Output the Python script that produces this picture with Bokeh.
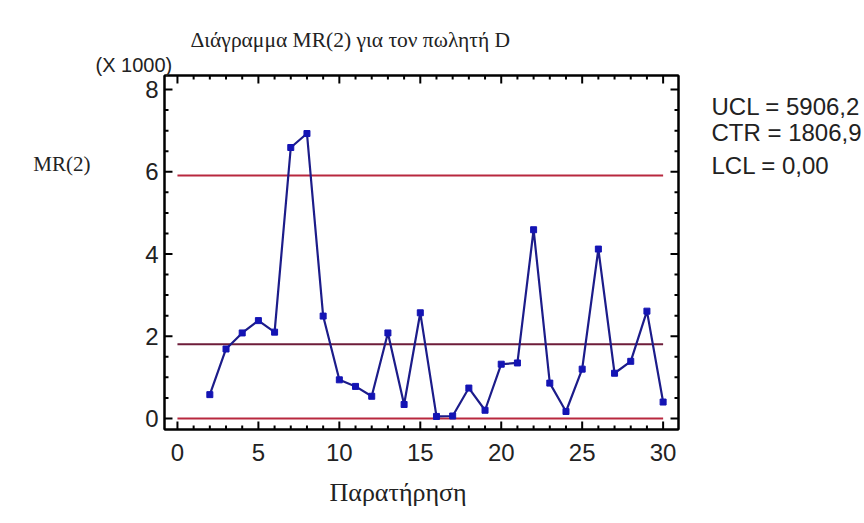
from bokeh.plotting import figure
from bokeh.models import Range1d, FixedTicker, LinearAxis, Title
from bokeh.embed import file_html
from bokeh.resources import INLINE

# ---- data (moving range of order 2) ----
obs = list(range(2, 31))
mr = [580, 1690, 2080, 2380, 2100, 6590, 6930, 2490, 940, 780,
      540, 2080, 340, 2570, 50, 60, 740, 200, 1320, 1350,
      4590, 860, 170, 1200, 4120, 1100, 1390, 2610, 400]
ucl = 5906.2
ctr = 1806.9
lcl = 0.0
x_ticks = [0, 5, 10, 15, 20, 25, 30]
x_minor = list(range(0, 31))
y_ticks = [0, 2000, 4000, 6000, 8000]
y_minor = list(range(0, 8001, 500))
y_tick_labels = ["0", "2", "4", "6", "8"]

title_text = "Διάγραμμα MR(2) για τον πωλητή D"
x_label = "Παρατήρηση"
y_label = "MR(2)"
scale_label = "(X 1000)"
limit_texts = ["UCL = 5906,2", "CTR = 1806,9", "LCL = 0,00"]

SERIF = "Liberation Serif"
SANS = "Liberation Sans"
TXT = "#222222"

W, H = 864, 523
BL, BR, BT, BB = 164, 185, 75, 94
xr = Range1d(-0.8, 30.95)
yr_ = Range1d(-268, 8341)

p = figure(width=W, height=H, output_backend="svg", toolbar_location=None,
           title=None, x_range=xr, y_range=yr_,
           min_border_left=BL, min_border_right=BR,
           min_border_top=BT, min_border_bottom=BB,
           x_axis_type=None, y_axis_type=None)
p.background_fill_color = "white"
p.border_fill_color = "white"
p.outline_line_color = "black"
p.outline_line_width = 2
p.xgrid.visible = False
p.ygrid.visible = False

xt = FixedTicker(ticks=x_ticks, minor_ticks=[])
yt = FixedTicker(ticks=y_ticks, minor_ticks=[])
ylabels = {t: s for t, s in zip(y_ticks, y_tick_labels)}


def style(ax, show_labels):
    ax.axis_line_color = "black"
    ax.axis_line_width = 2
    ax.major_tick_in = 0
    ax.major_tick_out = 0
    ax.minor_tick_in = 0
    ax.minor_tick_out = 0
    ax.major_tick_line_color = None
    ax.minor_tick_line_color = None
    if show_labels:
        ax.major_label_text_font = SANS
        ax.major_label_text_font_size = "24px"
        ax.major_label_text_color = TXT
    else:
        ax.major_label_standoff = 0
        ax.major_label_text_font_size = "0px"
        ax.major_label_text_color = None


def text_axis(ticks, labels, font, size, standoff):
    """An axis with no line and no ticks that only carries text labels."""
    ax = LinearAxis(ticker=FixedTicker(ticks=ticks, minor_ticks=[]),
                    major_label_overrides={t: s for t, s in zip(ticks, labels)})
    ax.axis_line_color = None
    ax.major_tick_line_color = None
    ax.minor_tick_line_color = None
    ax.major_tick_out = 0
    ax.major_tick_in = 0
    ax.major_label_text_font = font
    ax.major_label_text_font_size = size
    ax.major_label_text_color = TXT
    ax.major_label_standoff = standoff
    return ax


xb = LinearAxis(ticker=xt)
style(xb, True)
xb.major_label_standoff = 14
p.add_layout(xb, "below")

yl = LinearAxis(ticker=yt, major_label_overrides=ylabels)
style(yl, True)
yl.major_label_standoff = 6
p.add_layout(yl, "left")

xa = LinearAxis(ticker=xt)
style(xa, False)
p.add_layout(xa, "above")

yra = LinearAxis(ticker=yt)
style(yra, False)
p.add_layout(yra, "right")

# axis titles and control-limit legend
p.add_layout(text_axis([13.63], [x_label], SERIF, "26px", 14), "below")
p.add_layout(text_axis([6177], [y_label], SERIF, "21px", 52), "left")
p.add_layout(text_axis([7587, 6955, 6152], limit_texts, SANS, "24px", 33), "right")

p.add_layout(Title(text=scale_label, align="left", offset=-69, standoff=0,
                   text_font=SANS, text_font_size="20px", text_font_style="normal",
                   text_color=TXT), "above")
p.add_layout(Title(text=title_text, align="left", offset=26, standoff=0,
                   text_font=SERIF, text_font_size="21.5px", text_font_style="normal",
                   text_color=TXT), "above")

# inward tick marks on all four sides of the frame (through the plot scales)
fw, fh = W - BL - BR, H - BT - BB
ux = (xr.end - xr.start) / fw      # data units per pixel
uy = (yr_.end - yr_.start) / fh


def ticks_x(vals, length):
    d = length * uy
    p.segment(vals, [yr_.start] * len(vals), vals, [yr_.start + d] * len(vals),
              line_color="black", line_width=2)
    p.segment(vals, [yr_.end] * len(vals), vals, [yr_.end - d] * len(vals),
              line_color="black", line_width=2)


def ticks_y(vals, length):
    d = length * ux
    p.segment([xr.start] * len(vals), vals, [xr.start + d] * len(vals), vals,
              line_color="black", line_width=2)
    p.segment([xr.end] * len(vals), vals, [xr.end - d] * len(vals), vals,
              line_color="black", line_width=2)


ticks_x(x_ticks, 8)
ticks_x([v for v in x_minor if v not in x_ticks], 4)
ticks_y(y_ticks, 8)
ticks_y([v for v in y_minor if v not in y_ticks], 4)

# control limits, drawn over the observation span
x0, x1 = x_ticks[0], obs[-1]
p.line([x0, x1], [ucl, ucl], line_color="#B8283F", line_width=2)
p.line([x0, x1], [ctr, ctr], line_color="#6E1D3A", line_width=2)
p.line([x0, x1], [lcl, lcl], line_color="#B8283F", line_width=2)

# moving range series
p.line(obs, mr, line_color="#1C1C8A", line_width=2.2)
p.scatter(obs, mr, marker="square", size=6, fill_color="#1414B4", line_color="#1414B4")

open("out.html", "w").write(file_html(p, INLINE))
